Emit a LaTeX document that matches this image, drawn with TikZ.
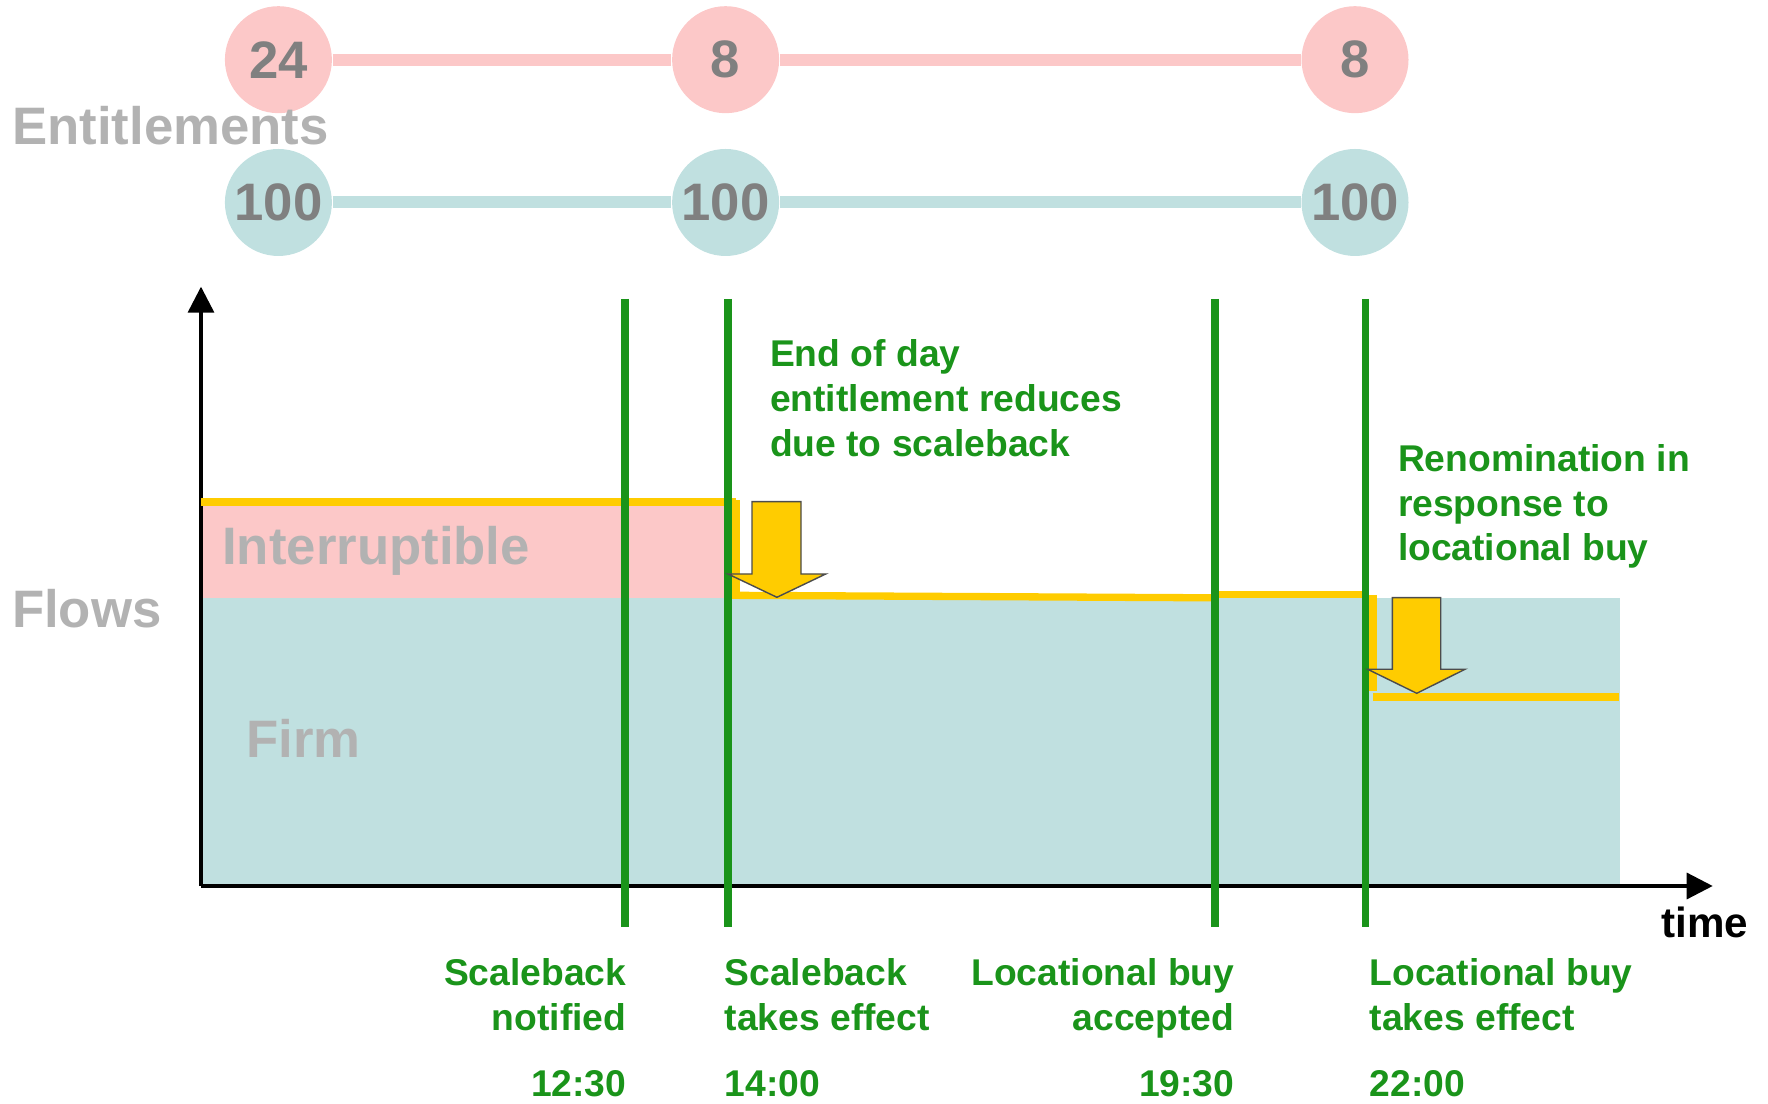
\documentclass[tikz,border=0pt]{standalone}
\usepackage{fontspec}
\setmainfont{Liberation Sans}
\usetikzlibrary{arrows.meta, positioning}

\definecolor{intpink}{RGB}{252,200,200}
\definecolor{firmteal}{RGB}{192,224,224}
\definecolor{markgreen}{RGB}{26,148,26}
\definecolor{flowyellow}{RGB}{255,204,0}
\definecolor{labelgray}{RGB}{178,178,178}
\definecolor{numgray}{RGB}{128,128,128}

\tikzset{
  entcircle/.style={circle, minimum size=1.07cm, inner sep=0pt, text=numgray, font=\fontsize{15}{18}\selectfont\bfseries},
  entline/.style={line width=0.12cm},
  bigword/.style={inner sep=0pt, anchor=base west, text=labelgray, font=\fontsize{15}{18}\selectfont\bfseries},
  note/.style={inner sep=0pt, text=markgreen, font=\fontsize{10.6}{12.8}\selectfont\bfseries},
  marker/.style={draw=markgreen, line width=0.075cm},
  flowline/.style={draw=flowyellow, line width=0.073cm},
  dropshape/.style={fill=flowyellow, draw=black!70, line width=0.4pt},
  axis/.style={line width=0.033cm, -{Triangle[length=0.26cm, width=0.26cm]}}
}

\begin{document}
\begin{tikzpicture}
    \useasboundingbox (0,0) rectangle (17.68,11.03);

    % Draw the flow areas
    \fill[firmteal] (2.01,2.17) rectangle (16.20,5.053);
    \fill[intpink] (2.01,5.053) rectangle (7.29,5.973);

    % Draw the axes
    \coordinate (origin) at (2.01,2.17);
    \coordinate (ytop) at (2.01,8.163);
    \coordinate (xend) at (17.127,2.17);
    \draw[axis] (origin) -- (ytop);
    \draw[axis] (origin) -- (xend);

    % Draw the flow line
    \draw[flowline] (2.01,6.01) -- (7.36,6.01);
    \draw[flowline] (7.36,6.03) -- (7.36,5.04);
    \draw[flowline] (7.29,5.077) -- (12.11,5.052);
    \draw[flowline] (12.15,5.082) -- (13.62,5.082);
    \draw[flowline] (13.73,5.08) -- (13.73,4.12);
    \draw[flowline] (13.73,4.06) -- (16.19,4.06);

    % Draw the time markers
    \coordinate (sbnote) at (6.25,8.04);
    \coordinate (sbeff) at (7.28,8.04);
    \coordinate (lbacc) at (12.15,8.04);
    \coordinate (lbeff) at (13.657,8.04);
    \draw[marker] (sbnote) -- ++(0,-6.277);
    \draw[marker] (sbeff) -- ++(0,-6.277);
    \draw[marker] (lbacc) -- ++(0,-6.277);
    \draw[marker] (lbeff) -- ++(0,-6.277);

    % Draw the drop arrows
    \draw[dropshape] (7.52,6.013) -- (8.01,6.013) -- (8.01,5.29) -- (8.257,5.29)
        -- (7.769,5.057) -- (7.28,5.29) -- (7.52,5.29) -- cycle;
    \draw[dropshape] (13.923,5.053) -- (14.407,5.053) -- (14.407,4.337) -- (14.65,4.337)
        -- (14.167,4.097) -- (13.677,4.337) -- (13.923,4.337) -- cycle;

    % Draw the entitlement circles
    \node (int1)  [entcircle, fill=intpink] at (2.784,10.433) {24};
    \node (int2)  [entcircle, fill=intpink] at (7.256,10.433) {8};
    \node (int3)  [entcircle, fill=intpink] at (13.55,10.433) {8};
    \node (firm1) [entcircle, fill=firmteal] at (2.784,9.005) {100};
    \node (firm2) [entcircle, fill=firmteal] at (7.256,9.005) {100};
    \node (firm3) [entcircle, fill=firmteal] at (13.55,9.005) {100};
    \draw[entline, intpink] (int1) -- (int2);
    \draw[entline, intpink] (int2) -- (int3);
    \draw[entline, firmteal] (firm1) -- (firm2);
    \draw[entline, firmteal] (firm2) -- (firm3);

    % Add the big labels
    \node (ent)   [bigword] at (0.115,9.58) {Entitlements};
    \node (flows) [bigword] at (0.113,4.75) {Flows};
    \node (intr)  [bigword] at (2.216,5.387) {Interruptible};
    \node (firm)  [bigword] at (2.458,3.453) {Firm};
    \node (time)  [inner sep=0pt, anchor=base west, font=\fontsize{12}{14}\selectfont\bfseries] at (16.607,1.657) {time};

    % Add the notes (base is the last line)
    \node (eodnote)  [note, align=left, anchor=base west] at (7.693,6.463) {End of day\\entitlement reduces\\due to scaleback};
    \node (renomnote) [note, align=left, anchor=base west] at (13.973,5.42) {Renomination in\\response to\\locational buy};

    % Add the marker labels
    \node (sbnotelbl) [note, align=right, anchor=base east] at (6.27,0.723) {Scaleback\\notified};
    \node (sbefflbl)  [note, align=left, anchor=base west] at (7.24,0.723) {Scaleback\\takes effect};
    \node (lbacclbl)  [note, align=right, anchor=base east] at (12.35,0.723) {Locational buy\\accepted};
    \node (lbefflbl)  [note, align=left, anchor=base west] at (13.69,0.723) {Locational buy\\takes effect};
    \node (sbnotetm)  [note, anchor=base east] at (6.27,0.063) {12:30};
    \node (sbefftm)   [note, anchor=base west] at (7.24,0.063) {14:00};
    \node (lbacctm)   [note, anchor=base east] at (12.35,0.063) {19:30};
    \node (lbefftm)   [note, anchor=base west] at (13.69,0.063) {22:00};
\end{tikzpicture}
\end{document}
